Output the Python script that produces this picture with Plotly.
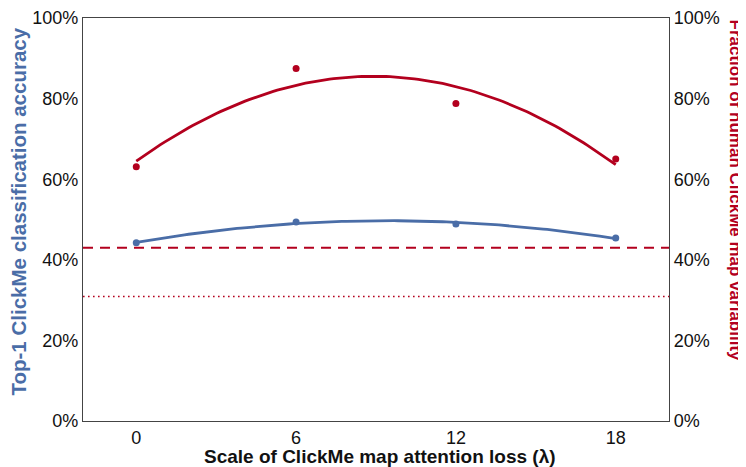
import numpy as np
import plotly.graph_objects as go

lam = [0, 6, 12, 18]
top1_acc = [44.2, 49.4, 48.9, 45.4]
human_var = [63.1, 87.5, 78.8, 65.0]
dashed_ref = 43.0
dotted_ref = 30.9
x_ticks = [0, 6, 12, 18]
y_ticks = [0, 20, 40, 60, 80, 100]

BLUE = "#4A6DA7"
RED = "#B3001E"
FONT = "Liberation Sans, Arial, Helvetica, sans-serif"

xs = np.linspace(min(lam), max(lam), 120)
fit_b = np.polyval(np.polyfit(lam, top1_acc, 2), xs)
fit_r = np.polyval(np.polyfit(lam, human_var, 2), xs)

fig = go.Figure()
fig.add_trace(go.Scatter(x=xs, y=fit_b, mode="lines", line=dict(color=BLUE, width=2.8),
                         showlegend=False, hoverinfo="skip"))
fig.add_trace(go.Scatter(x=lam, y=top1_acc, mode="markers", marker=dict(color=BLUE, size=7),
                         showlegend=False))
fig.add_trace(go.Scatter(x=xs, y=fit_r, mode="lines", line=dict(color=RED, width=2.8),
                         showlegend=False, hoverinfo="skip", yaxis="y2"))
fig.add_trace(go.Scatter(x=lam, y=human_var, mode="markers", marker=dict(color=RED, size=7),
                         showlegend=False, yaxis="y2"))

fig.add_shape(type="line", xref="paper", yref="y2", x0=0, x1=1, y0=dashed_ref, y1=dashed_ref,
              line=dict(color=RED, width=2, dash="10px,7px"))
fig.add_shape(type="line", xref="paper", yref="y2", x0=0, x1=1, y0=dotted_ref, y1=dotted_ref,
              line=dict(color=RED, width=1.6, dash="1.6px,3.4px"))

axis_common = dict(range=[0, 100], tickvals=y_ticks, ticktext=[f"{v}%" for v in y_ticks],
                   showgrid=False, zeroline=False, ticks="", showline=True,
                   linecolor="#444", linewidth=1.3, automargin=False,
                   tickfont=dict(family=FONT, size=18, color="#111"))

# page body has an 8px default margin; figure sized/margined to compensate
fig.update_layout(
    width=738, height=459,
    margin=dict(l=75, r=77, t=10, b=46, autoexpand=False),
    paper_bgcolor="white", plot_bgcolor="white",
    xaxis=dict(range=[-2, 20], tickvals=x_ticks, ticktext=[str(v) for v in x_ticks],
               showgrid=False, zeroline=False, ticks="", showline=True, mirror=True,
               linecolor="#444", linewidth=1.3, automargin=False,
               tickfont=dict(family=FONT, size=18, color="#111")),
    yaxis=dict(**axis_common, side="left"),
    yaxis2=dict(**axis_common, side="right", overlaying="y"),
    annotations=[
        dict(text="<b>Scale of ClickMe map attention loss (λ)</b>", xref="paper", yref="paper",
             x=0.5, xshift=4, y=0, yshift=-35, yanchor="middle", showarrow=False,
             font=dict(family=FONT, size=19, color="#111")),
        dict(text="<b>Top-1 ClickMe classification accuracy</b>", xref="paper", yref="paper",
             x=0, xshift=-65, y=0.5, yshift=8, xanchor="center", yanchor="middle", textangle=-90,
             showarrow=False, font=dict(family=FONT, size=20.5, color=BLUE)),
        dict(text="<b>Fraction of human ClickMe map variability</b>", xref="paper", yref="paper",
             x=1, xshift=66, y=0.5, yshift=29, xanchor="center", yanchor="middle", textangle=90,
             showarrow=False, font=dict(family=FONT, size=17, color=RED)),
    ],
)

fig.write_html("out.html")
